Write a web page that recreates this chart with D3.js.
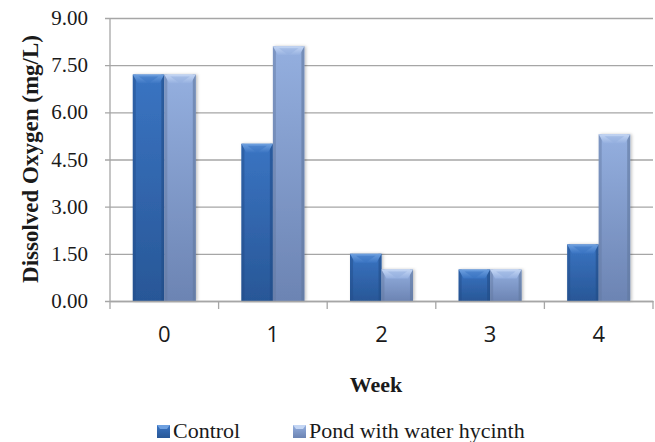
<!DOCTYPE html>
<html>
<head>
<meta charset="utf-8">
<script src="https://cdn.jsdelivr.net/npm/d3@7"></script>
<style>
  html, body { margin: 0; padding: 0; background: #fff; }
  svg { display: block; }
  .serif { font-family: 'Liberation Serif', 'Times New Roman', 'DejaVu Serif', serif; }
  .sans { font-family: 'Open Sans', 'Liberation Sans', sans-serif; }
</style>
</head>
<body>
<div id="chart"></div>
<script>
const weeks = ['0', '1', '2', '3', '4'];
const seriesNames = ['Control', 'Pond with water hycinth'];
const control = [7.2, 5.0, 1.5, 1.0, 1.8];
const hycinth = [7.2, 8.1, 1.0, 1.0, 5.3];
const yTicks = [0, 1.5, 3, 4.5, 6, 7.5, 9];

const W = 655, H = 442;
const margin = { top: 18, right: 2, bottom: 141, left: 110 };

const svg = d3.select('#chart').append('svg')
  .attr('width', W).attr('height', H);

const defs = svg.append('defs');

// bar colours: top, bottom, bevel light, side dark
const palette = [
  { top: '#3a74c2', bottom: '#285797', bevel: '#6ea0e0', side: '#224c88' },
  { top: '#94afdf', bottom: '#6c84b3', bevel: '#c4d6f4', side: '#61789f' },
];

palette.forEach((p, i) => {
  const g = defs.append('linearGradient').attr('id', 'body' + i)
    .attr('x1', 0).attr('y1', 0).attr('x2', 0).attr('y2', 1);
  g.append('stop').attr('offset', '0%').attr('stop-color', p.top);
  g.append('stop').attr('offset', '100%').attr('stop-color', p.bottom);

  const b = defs.append('linearGradient').attr('id', 'bevel' + i)
    .attr('x1', 0).attr('y1', 0).attr('x2', 0).attr('y2', 1);
  b.append('stop').attr('offset', '0%').attr('stop-color', p.bevel);
  b.append('stop').attr('offset', '100%').attr('stop-color', p.top);
});

const shadow = defs.append('filter').attr('id', 'shadow')
  .attr('x', '-20%').attr('y', '-5%').attr('width', '140%').attr('height', '110%');
shadow.append('feDropShadow')
  .attr('dx', 1.5).attr('dy', 0).attr('stdDeviation', 1.5)
  .attr('flood-color', '#000').attr('flood-opacity', 0.25);

const plotW = W - margin.left - margin.right;
const plotH = H - margin.top - margin.bottom;

const x0 = d3.scaleBand().domain(weeks).range([0, plotW]);
const x1 = d3.scaleBand().domain(seriesNames)
  .range([x0.bandwidth() * 0.21, x0.bandwidth() * 0.79]);
const y = d3.scaleLinear().domain([0, 9]).range([plotH, 0]);

const g = svg.append('g')
  .attr('transform', `translate(${margin.left},${margin.top})`);

// gridlines
g.append('g')
  .call(d3.axisLeft(y).tickValues(yTicks).tickSize(-plotW).tickFormat(''))
  .call(s => s.select('.domain').remove())
  .call(s => s.selectAll('.tick line')
    .attr('x1', -5)
    .attr('stroke', '#a6a6a6').attr('stroke-width', 1.3));

g.append('line')
  .attr('x1', 0).attr('x2', 0).attr('y1', 0).attr('y2', plotH)
  .attr('stroke', '#a6a6a6').attr('stroke-width', 1.3);

g.append('g')
  .selectAll('text')
  .data(yTicks)
  .join('text')
  .attr('class', 'serif')
  .attr('x', -22)
  .attr('y', d => y(d))
  .attr('dy', '0.34em')
  .attr('text-anchor', 'end')
  .attr('font-size', 21)
  .attr('fill', '#1a1a1a')
  .text(d => d.toFixed(2));

// bars
const series = [control, hycinth];
const bars = g.append('g').selectAll('g')
  .data(weeks)
  .join('g')
  .attr('transform', d => `translate(${x0(d)},0)`);

bars.selectAll('g')
  .data((d, i) => seriesNames.map((s, k) => ({ s, k, v: series[k][i] })))
  .join('g')
  .each(function (d) {
    const sel = d3.select(this);
    const bx = x1(d.s), bw = x1.bandwidth();
    const by = y(d.v), bh = plotH - by;
    const p = palette[d.k];
    sel.append('rect')
      .attr('x', bx).attr('y', by).attr('width', bw).attr('height', bh)
      .attr('fill', `url(#body${d.k})`)
      .attr('filter', 'url(#shadow)');
    // side bevels
    sel.append('rect')
      .attr('x', bx).attr('y', by).attr('width', 3).attr('height', bh)
      .attr('fill', p.side).attr('opacity', 0.45);
    sel.append('rect')
      .attr('x', bx + bw - 3).attr('y', by).attr('width', 3).attr('height', bh)
      .attr('fill', p.side).attr('opacity', 0.6);
    // top bevel
    const bd = Math.min(9, bh);
    sel.append('path')
      .attr('d', `M${bx},${by}L${bx + bw},${by}L${bx + bw - 5},${by + bd}L${bx + 5},${by + bd}Z`)
      .attr('fill', `url(#bevel${d.k})`);
    sel.append('path')
      .attr('d', `M${bx + 6},${by + 2}L${bx + bw - 6},${by + 2}L${bx + bw / 2},${by + bd}Z`)
      .attr('fill', p.top).attr('opacity', 0.55);
  });

// x axis
g.append('g')
  .attr('transform', `translate(0,${plotH})`)
  .call(d3.axisBottom(x0).tickSize(0).tickFormat(''))
  .call(s => s.select('.domain').attr('stroke', '#a6a6a6').attr('stroke-width', 1.3));

g.append('g')
  .selectAll('line')
  .data(weeks.concat(['end']))
  .join('line')
  .attr('x1', (d, i) => i < weeks.length ? x0(d) : plotW)
  .attr('x2', (d, i) => i < weeks.length ? x0(d) : plotW)
  .attr('y1', plotH).attr('y2', plotH + 8)
  .attr('stroke', '#a6a6a6').attr('stroke-width', 1.3);

g.append('g')
  .selectAll('text')
  .data(weeks)
  .join('text')
  .attr('class', 'sans')
  .attr('x', d => x0(d) + x0.bandwidth() / 2)
  .attr('y', 342 - margin.top)
  .attr('text-anchor', 'middle')
  .attr('font-size', 22)
  .attr('fill', '#1a1a1a')
  .text(d => d);

// axis titles
svg.append('text')
  .attr('class', 'serif')
  .attr('x', 376).attr('y', 392)
  .attr('text-anchor', 'middle')
  .attr('font-weight', 'bold')
  .attr('font-size', 22)
  .attr('fill', '#1a1a1a')
  .text('Week');

svg.append('text')
  .attr('class', 'serif')
  .attr('transform', 'translate(38,159) rotate(-90)')
  .attr('text-anchor', 'middle')
  .attr('font-weight', 'bold')
  .attr('font-size', 23)
  .attr('fill', '#1a1a1a')
  .text('Dissolved Oxygen (mg/L)');

// legend
const legendX = [157, 293];
const legend = svg.append('g').selectAll('g')
  .data(seriesNames)
  .join('g')
  .attr('transform', (d, i) => `translate(${legendX[i]},425)`);

legend.append('rect')
  .attr('width', 13).attr('height', 13)
  .attr('fill', (d, i) => `url(#body${i})`);
legend.append('path')
  .attr('d', 'M0,0L13,0L10,4L3,4Z')
  .attr('fill', (d, i) => palette[i].bevel);

legend.append('text')
  .attr('class', 'serif')
  .attr('x', 16).attr('y', 13)
  .attr('font-size', 22)
  .attr('fill', '#1a1a1a')
  .text(d => d);
</script>
</body>
</html>
